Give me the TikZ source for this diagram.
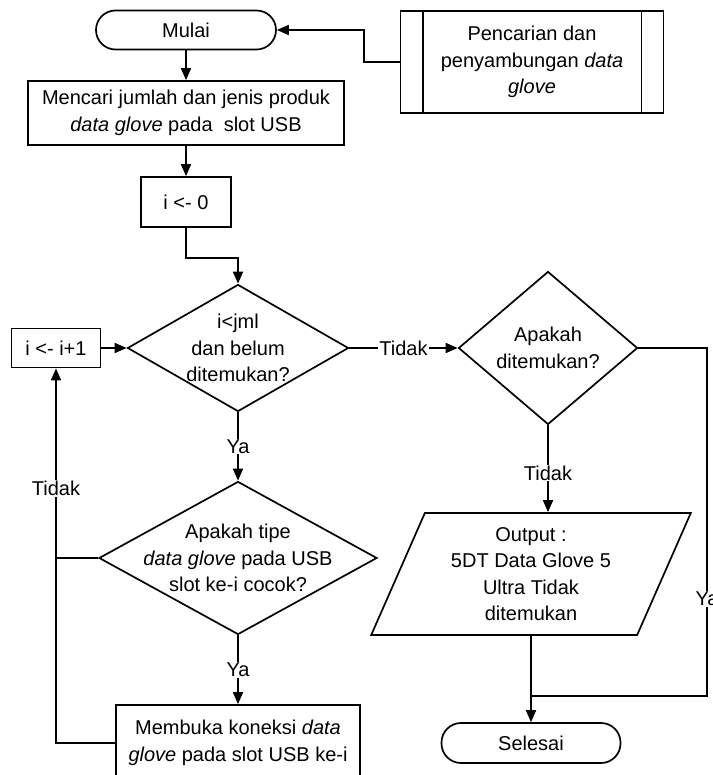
\documentclass[tikz,border=0pt]{standalone}
\usepackage{fontspec}
\setmainfont{Liberation Sans}
\usetikzlibrary{shapes.geometric,arrows.meta}

\tikzset{
  proses/.style={draw, rectangle, align=center, inner sep=2pt},
  terminal/.style={draw, rectangle, rounded corners=19.5pt},
  keputusan/.style={draw, diamond, inner sep=0pt},
  keluaran/.style={draw, trapezium, trapezium left angle=67, trapezium right angle=113,
    trapezium stretches=true, align=center, inner sep=2pt},
  ket/.style={fill=white, inner sep=1pt},
}

\begin{document}
\begin{tikzpicture}[x=1pt, y=-1pt, line width=1.7pt, >={Triangle[length=12pt,width=10pt]},
    font=\fontsize{20pt}{26.5pt}\selectfont]
    \useasboundingbox (0,0) rectangle (712,775);

    % kolom kiri
    \node[terminal, minimum width=180pt, minimum height=39pt] (mulai) at (186,30) {Mulai};
    \node[proses, minimum width=263pt, minimum height=102pt] (cariglove) at (532,62)
        {Pencarian dan\\penyambungan \textit{data}\\\textit{glove}};
    \draw ([xshift=23pt]cariglove.north west) -- ([xshift=23pt]cariglove.south west);
    \draw ([xshift=-23pt]cariglove.north east) -- ([xshift=-23pt]cariglove.south east);
    \node[proses, minimum width=316pt, minimum height=64pt] (hitung) at (186,113)
        {Mencari jumlah dan jenis produk\\\textit{data glove} pada\ \ slot USB};
    \node[proses, minimum width=90pt, minimum height=50pt] (awal) at (186,202) {i <- 0};
    \node[keputusan, minimum width=221pt, minimum height=127pt] (cek) at (238,348) {};
    \node[align=center] (cekteks) at (cek) {i<jml\\dan belum\\ditemukan?};
    \node[proses, minimum width=89pt, minimum height=39pt] (tambah) at (56,348) {i <- i+1};
    \node[keputusan, minimum width=278pt, minimum height=153pt] (tipe) at (238,558) {};
    \node[align=center] (tipeteks) at (tipe)
        {Apakah tipe\\\textit{data glove} pada USB\\slot ke-i cocok?};
    \node[proses, minimum width=244pt, minimum height=76pt] (buka) at (238,743)
        {Membuka koneksi \textit{data}\\\textit{glove} pada slot USB ke-i};

    % kolom kanan
    \node[keputusan, minimum width=179pt, minimum height=153pt] (ketemu) at (548,348) {};
    \node[align=center] (ketemuteks) at (ketemu) {Apakah\\ditemukan?};
    \node[keluaran, minimum width=320pt, minimum height=122pt] (keluar) at (531,574)
        {Output :\\5DT Data Glove 5\\Ultra Tidak\\ditemukan};
    \node[terminal, minimum width=179pt, minimum height=40pt] (selesai) at (531,743) {Selesai};

    % panah
    \draw[->] (cariglove.west) -- ++(-36,0) |- (mulai.east);
    \draw[->] (mulai) -- (hitung);
    \draw[->] (hitung) -- (awal);
    \coordinate (belok) at (186,258);
    \draw[->] (awal.south) -- (belok) -| (cek.north);
    \draw[->] (tambah) -- (cek);
    \draw[->] (cek) -- node[ket] {Tidak} (ketemu);
    \draw[->] (cek) -- node[ket] {Ya} (tipe);
    \draw[->] (tipe) -- node[ket] {Ya} (buka);
    \draw[->] (ketemu.south) -- node[ket, pos=0.55] {Tidak} (ketemu.south |- keluar.north);
    \draw[->] (buka.west) -| node[ket, pos=0.84] {Tidak} (tambah.south);
    \draw (tipe.west) -- (tipe.west -| tambah.south);
    \coordinate (pojok) at (707,696);
    \draw (ketemu.east) -| node[ket, pos=0.86] {Ya} (pojok) -- (pojok -| keluar.south);
    \draw[->] (keluar.south) -- (selesai.north);
\end{tikzpicture}
\end{document}
